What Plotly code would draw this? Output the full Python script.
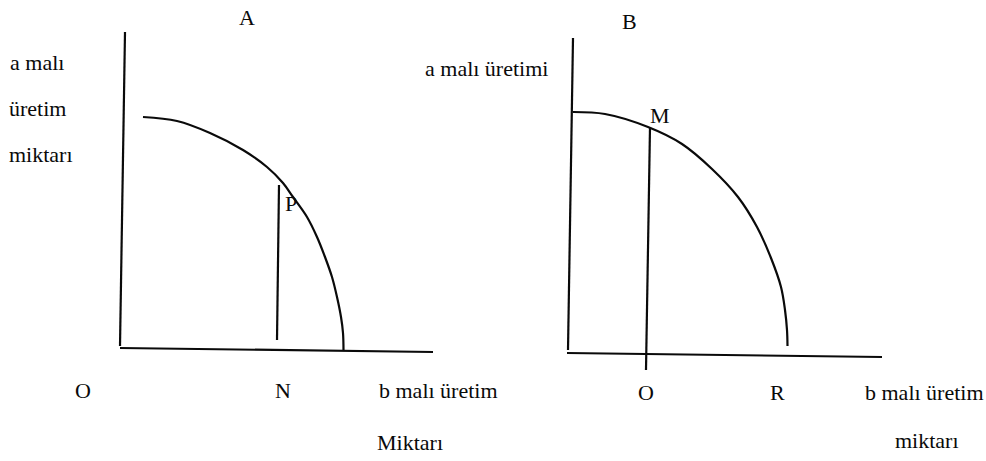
import plotly.graph_objects as go

# everything is measured in page pixels of the scanned figure (y grows downward)

# panel A
axis_a_x = [125, 120, None, 120, 433]
axis_a_y = [32, 346, None, 348, 352]
curve_a_x = [143, 177, 210, 243, 267, 283, 293, 307, 317, 325, 332, 337, 341, 343, 343.5]
curve_a_y = [117, 121, 133, 150, 167, 183, 197, 217, 237, 257, 277, 297, 317, 333, 350]
line_n_x = [279, 277]
line_n_y = [185, 340]

# panel B
axis_b_x = [573, 568, None, 567, 882]
axis_b_y = [38, 350, None, 353, 357]
curve_b_x = [573, 605, 648, 682, 712, 738, 757, 771, 781, 785, 787, 787.5]
curve_b_y = [112, 114, 127, 144, 169, 197, 227, 258, 287, 310, 330, 346]
line_o_x = [650, 646]
line_o_y = [127, 370]

# text labels
label_text = [
    "A", "a malı", "üretim", "miktarı", "P", "O", "N", "b malı üretim", "Miktarı",
    "B", "a malı üretimi", "M", "O", "R", "b malı üretim", "miktarı",
]
label_x = [247, 8, 7, 7, 283, 83, 283, 377, 375, 629, 423, 648, 646, 777, 863, 893]
label_y = [17, 62, 108, 154, 203, 390, 390, 390, 442, 21, 68, 115, 392, 392, 392, 440]
label_anchor = [
    "center", "left", "left", "left", "left", "center", "center", "left", "left",
    "center", "left", "left", "center", "center", "left", "left",
]

ink = "rgb(10, 10, 10)"

fig = go.Figure()
for xs, ys in [
    (axis_a_x, axis_a_y),
    (curve_a_x, curve_a_y),
    (line_n_x, line_n_y),
    (axis_b_x, axis_b_y),
    (curve_b_x, curve_b_y),
    (line_o_x, line_o_y),
]:
    fig.add_trace(
        go.Scatter(
            x=xs,
            y=ys,
            mode="lines",
            line=dict(color=ink, width=2.2, shape="spline", smoothing=1.0),
            hoverinfo="skip",
        )
    )

annotations = []
for text, x, y, anchor in zip(label_text, label_x, label_y, label_anchor):
    annotations.append(
        dict(
            xref="x",
            yref="y",
            x=x,
            y=y,
            text=text,
            xanchor=anchor,
            yanchor="middle",
            showarrow=False,
            font=dict(family="Liberation Serif, Times New Roman, serif", size=22, color=ink),
        )
    )

fig.update_layout(
    annotations=annotations,
    xaxis=dict(range=[0, 986], visible=False, fixedrange=True),
    yaxis=dict(range=[461, 0], visible=False, fixedrange=True),
    width=986,
    height=461,
    margin=dict(l=0, r=0, t=0, b=0),
    plot_bgcolor="white",
    paper_bgcolor="white",
    showlegend=False,
)

# drop the browser's default page margin so the figure sits at the window corner
fig.write_html(
    "out.html",
    config=dict(displayModeBar=False),
    post_script="document.body.style.margin = '0px';",
)
